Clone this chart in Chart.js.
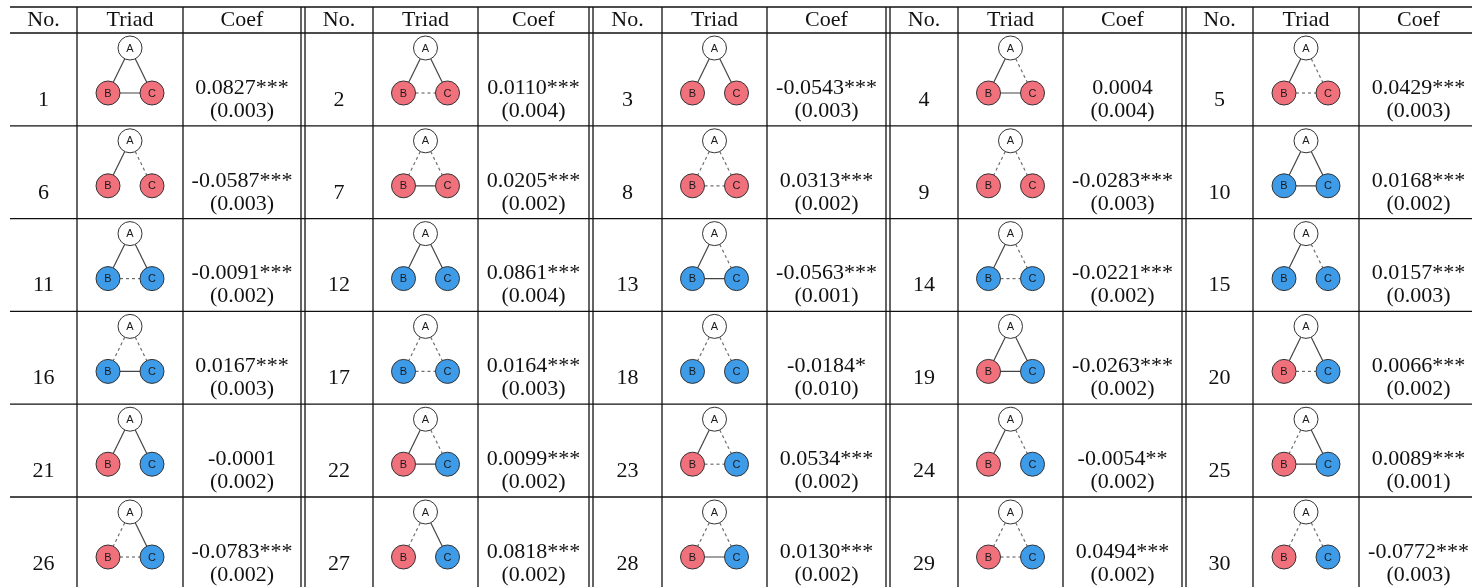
<!DOCTYPE html>
<html>
<head>
<meta charset="utf-8">
<script src="https://cdn.jsdelivr.net/npm/chart.js@4.4.1/dist/chart.umd.min.js"></script>
<style>
  html, body { margin: 0; padding: 0; background: #fff; }
  #wrap { width: 1472px; height: 587px; }
</style>
</head>
<body>
<div id="wrap"><canvas id="chart" width="1472" height="587"></canvas></div>
<script>
// Triad coefficients, No. 1-30
// ties: 's' = solid, 'd' = dashed, 'n' = no tie
const triadNo = [1, 2, 3, 4, 5, 6, 7, 8, 9, 10, 11, 12, 13, 14, 15,
    16, 17, 18, 19, 20, 21, 22, 23, 24, 25, 26, 27, 28, 29, 30];
const tieAB = ['s','s','s','s','s','s','d','d','d','s','s','s','s','s','s',
    'd','d','d','s','s','s','s','s','s','d','d','d','d','d','d'];
const tieAC = ['s','s','s','d','d','d','d','d','d','s','s','s','d','d','d',
    'd','d','d','s','s','s','d','d','d','s','s','s','d','d','d'];
const tieBC = ['s','d','n','s','d','n','s','d','n','s','d','n','s','d','n',
    's','d','n','s','d','n','s','d','n','s','d','n','s','d','n'];
const groupB = ['r','r','r','r','r','r','r','r','r','b','b','b','b','b','b',
    'b','b','b','r','r','r','r','r','r','r','r','r','r','r','r'];
const groupC = ['r','r','r','r','r','r','r','r','r','b','b','b','b','b','b',
    'b','b','b','b','b','b','b','b','b','b','b','b','b','b','b'];
const coefs = [0.0827, 0.0110, -0.0543, 0.0004, 0.0429, -0.0587, 0.0205, 0.0313, -0.0283, 0.0168,
    -0.0091, 0.0861, -0.0563, -0.0221, 0.0157, 0.0167, 0.0164, -0.0184, -0.0263, 0.0066,
    -0.0001, 0.0099, 0.0534, -0.0054, 0.0089, -0.0783, 0.0818, 0.0130, 0.0494, -0.0772];
const stars = ['***','***','***','','***','***','***','***','***','***',
    '***','***','***','***','***','***','***','*','***','***',
    '','***','***','**','***','***','***','***','***','***'];
const stdErr = [0.003, 0.004, 0.003, 0.004, 0.003, 0.003, 0.002, 0.002, 0.003, 0.002,
    0.002, 0.004, 0.001, 0.002, 0.003, 0.003, 0.003, 0.010, 0.002, 0.002,
    0.002, 0.002, 0.002, 0.002, 0.001, 0.002, 0.002, 0.002, 0.002, 0.003];
const headers = ['No.', 'Triad', 'Coef'];

// Table layout (page pixels)
const W = 1472, H = 587;
const GROUP_LEFT = [10, 305, 593, 890, 1186];
const GROUP_RIGHT = [301, 589, 886, 1182, 1478];
const COL_LINES = [[77, 183], [373, 478], [662, 767], [958, 1063], [1253, 1359]];
const HEADER_TOP = 7, HEADER_BOTTOM = 33, ROW_H = 92.8;
const GROUPS = 5;

const COLORS = { r: '#f0717c', b: '#3e9be8' };
const SERIF = '"Liberation Serif", "Times New Roman", serif';

function cellCenters(g) {
    const [c0, c1] = COL_LINES[g];
    return {
        no: (GROUP_LEFT[g] + c0) / 2,
        triad: (c0 + c1) / 2,
        coef: (c1 + GROUP_RIGHT[g]) / 2
    };
}

function rowTop(r) {
    return HEADER_BOTTOM + r * ROW_H;
}

// Build node points and tie segments
const nodePoints = [];
const nodeColors = [];
const tieDatasets = [];

triadNo.forEach((no, i) => {
    const g = i % GROUPS;
    const r = Math.floor(i / GROUPS);
    const cx = cellCenters(g).triad;
    const top = rowTop(r);
    const A = { x: cx, y: top + 15, label: 'A' };
    const B = { x: cx - 22, y: top + 60, label: 'B' };
    const C = { x: cx + 22, y: top + 60, label: 'C' };
    nodePoints.push(A, B, C);
    nodeColors.push('#ffffff', COLORS[groupB[i]], COLORS[groupC[i]]);

    [[tieAB[i], A, B], [tieAC[i], A, C], [tieBC[i], B, C]].forEach(([t, p, q]) => {
        if (t === 'n') return;
        tieDatasets.push({
            data: [{ x: p.x, y: p.y }, { x: q.x, y: q.y }],
            showLine: true,
            borderColor: t === 's' ? '#444444' : '#6e6e6e',
            borderWidth: 1.2,
            borderDash: t === 's' ? [] : [3, 3],
            pointRadius: 0,
            order: 2
        });
    });
});

const tablePlugin = {
    id: 'triadTable',
    beforeDatasetsDraw(chart) {
        const { ctx, scales: { x, y } } = chart;
        ctx.save();
        ctx.strokeStyle = '#111111';
        ctx.lineWidth = 1.3;
        // horizontal rules
        const hLines = [HEADER_TOP, HEADER_BOTTOM];
        for (let r = 1; r <= 6; r++) hLines.push(rowTop(r));
        hLines.forEach(v => {
            ctx.beginPath();
            ctx.moveTo(x.getPixelForValue(GROUP_LEFT[0]), y.getPixelForValue(v));
            ctx.lineTo(x.getPixelForValue(W), y.getPixelForValue(v));
            ctx.stroke();
        });
        // vertical rules
        const vLines = [];
        COL_LINES.forEach(pair => vLines.push(...pair));
        for (let g = 0; g < GROUPS - 1; g++) vLines.push(GROUP_RIGHT[g], GROUP_LEFT[g + 1]);
        vLines.forEach(v => {
            ctx.beginPath();
            ctx.moveTo(x.getPixelForValue(v), y.getPixelForValue(HEADER_TOP));
            ctx.lineTo(x.getPixelForValue(v), y.getPixelForValue(H));
            ctx.stroke();
        });
        ctx.restore();
    },
    afterDatasetsDraw(chart) {
        const { ctx, scales: { x, y } } = chart;
        ctx.save();
        ctx.fillStyle = '#111111';
        ctx.textAlign = 'center';
        ctx.textBaseline = 'alphabetic';
        ctx.font = '22px ' + SERIF;

        // header
        for (let g = 0; g < GROUPS; g++) {
            const c = cellCenters(g);
            ctx.fillText(headers[0], x.getPixelForValue(c.no), y.getPixelForValue(26));
            ctx.fillText(headers[1], x.getPixelForValue(c.triad), y.getPixelForValue(26));
            ctx.fillText(headers[2], x.getPixelForValue(c.coef), y.getPixelForValue(26));
        }

        // body
        triadNo.forEach((no, i) => {
            const g = i % GROUPS;
            const r = Math.floor(i / GROUPS);
            const c = cellCenters(g);
            const bottom = rowTop(r + 1);
            ctx.fillText(String(no), x.getPixelForValue(c.no), y.getPixelForValue(bottom - 20));
            ctx.fillText(coefs[i].toFixed(4) + stars[i], x.getPixelForValue(c.coef), y.getPixelForValue(bottom - 32));
            ctx.fillText('(' + stdErr[i].toFixed(3) + ')', x.getPixelForValue(c.coef), y.getPixelForValue(bottom - 9));
        });

        // node letters
        const meta = chart.getDatasetMeta(chart.data.datasets.length - 1);
        ctx.font = '11px "Liberation Sans", Arial, sans-serif';
        ctx.textBaseline = 'middle';
        ctx.fillStyle = '#1a1a1a';
        meta.data.forEach((el, k) => {
            ctx.fillText(nodePoints[k].label, el.x, el.y + 0.5);
        });
        ctx.restore();
    }
};

new Chart(document.getElementById('chart'), {
    type: 'scatter',
    data: {
        datasets: [
            ...tieDatasets,
            {
                data: nodePoints,
                backgroundColor: nodeColors,
                borderColor: '#333333',
                borderWidth: 1,
                pointRadius: 12,
                pointHoverRadius: 12,
                order: 1
            }
        ]
    },
    options: {
        responsive: false,
        animation: false,
        devicePixelRatio: 1,
        layout: { padding: 0, autoPadding: false },
        scales: {
            x: { type: 'linear', min: 0, max: W, display: false },
            y: { type: 'linear', min: 0, max: H, reverse: true, display: false }
        },
        plugins: {
            legend: { display: false },
            tooltip: { enabled: false }
        },
        events: []
    },
    plugins: [tablePlugin]
});
</script>
</body>
</html>
